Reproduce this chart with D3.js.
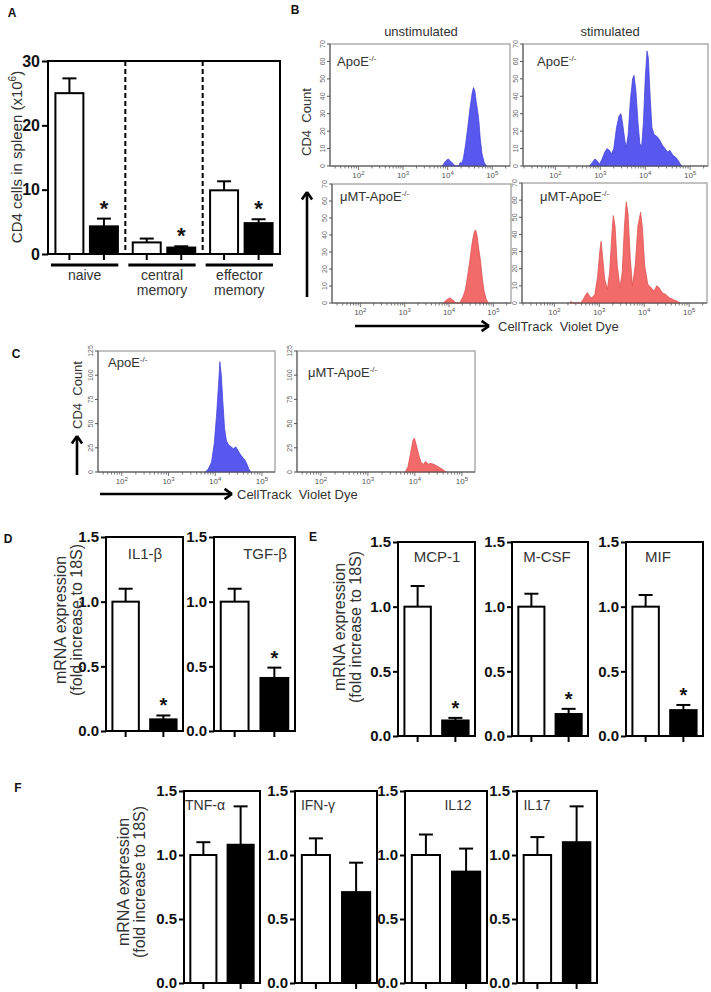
<!DOCTYPE html>
<html><head><meta charset="utf-8">
<script src="https://cdn.jsdelivr.net/npm/d3@7"></script>
<style>
body{margin:0;background:#fff}
svg{display:block}
text{font-family:"Liberation Sans",Arial,Helvetica,sans-serif}
</style>
</head><body>
<svg id="fig" width="711" height="992"></svg>
<script>
// ================= DATA =================
// Panel A: CD4 cells in spleen (x10^6)
const groupsA = ["naive", "central memory", "effector memory"];
const apoeA = [25.0, 1.8, 9.9];
const apoeErrA = [2.3, 0.6, 1.4];
const umtA = [4.3, 1.0, 4.8];
const umtErrA = [1.2, 0.2, 0.6];
const sigA = [true, true, true];
const yTicksA = [0, 10, 20, 30];

// Panel D
const genesD = ["IL1-β", "TGF-β"];
const apoeD = [1.0, 1.0];
const apoeErrD = [0.10, 0.10];
const umtD = [0.09, 0.41];
const umtErrD = [0.03, 0.08];
const sigD = [true, true];

// Panel E
const genesE = ["MCP-1", "M-CSF", "MIF"];
const apoeE = [1.0, 1.0, 1.0];
const apoeErrE = [0.16, 0.10, 0.09];
const umtE = [0.12, 0.17, 0.20];
const umtErrE = [0.02, 0.04, 0.04];
const sigE = [true, true, true];

// Panel F
const genesF = ["TNF-α", "IFN-γ", "IL12", "IL17"];
const apoeF = [1.0, 1.0, 1.0, 1.0];
const apoeErrF = [0.10, 0.13, 0.16, 0.14];
const umtF = [1.08, 0.71, 0.87, 1.10];
const umtErrF = [0.30, 0.23, 0.18, 0.28];
const sigF = [false, false, false, false];

const yTicksMRNA = [0, 0.5, 1.0, 1.5];

// Flow histograms: [log10 CellTrack Violet intensity, CD4 count]
const histApoEUnstim = [[3.88,0],[3.93,2],[3.98,3.5],[4.02,4],[4.07,2.5],[4.12,1.5],[4.16,0],[4.25,0],[4.28,2],[4.31,1.5],[4.35,4],[4.40,12],[4.45,22],[4.50,33],[4.55,42],[4.58,45],[4.61,43],[4.64,37],[4.67,32],[4.70,26],[4.73,16],[4.77,7],[4.82,2],[4.87,0]];
const histApoEStim = [[2.76,0],[2.82,2],[2.88,4],[2.93,3],[2.98,1],[3.04,4],[3.10,8],[3.15,10],[3.20,9],[3.25,7],[3.30,10],[3.36,22],[3.42,29],[3.46,30],[3.50,24],[3.55,14],[3.58,11],[3.62,18],[3.67,38],[3.72,50],[3.75,52],[3.79,44],[3.84,25],[3.88,13],[3.92,11],[3.96,25],[4.00,50],[4.04,66],[4.07,62],[4.11,40],[4.15,22],[4.20,18],[4.26,17],[4.32,15],[4.38,12],[4.44,10],[4.50,8],[4.55,9],[4.62,6],[4.68,5],[4.74,3],[4.78,1],[4.82,0]];
const histUmtUnstim = [[3.87,0],[3.93,1.5],[3.98,2.5],[4.02,3],[4.07,2],[4.12,1],[4.16,0],[4.24,0],[4.28,2],[4.32,4],[4.37,8],[4.42,16],[4.47,25],[4.52,35],[4.57,42],[4.60,43],[4.63,40],[4.67,32],[4.71,25],[4.75,15],[4.79,7],[4.84,2],[4.89,0]];
const histUmtStim = [[2.35,0],[2.37,1],[2.39,0],[2.58,0],[2.64,2],[2.70,5],[2.74,6],[2.78,4],[2.83,3],[2.90,5],[2.96,15],[3.01,30],[3.04,36],[3.07,28],[3.12,14],[3.18,8],[3.23,18],[3.28,40],[3.31,51],[3.35,45],[3.40,22],[3.46,9],[3.51,18],[3.56,45],[3.60,59],[3.64,52],[3.69,26],[3.74,10],[3.80,22],[3.86,45],[3.92,53],[3.96,44],[4.01,22],[4.08,11],[4.15,9],[4.22,7],[4.28,10],[4.33,9],[4.40,6],[4.48,5],[4.56,3],[4.65,2],[4.74,1],[4.80,0]];
const histC_ApoE = [[3.79,0],[3.85,3],[3.92,10],[3.98,30],[4.03,60],[4.07,90],[4.10,114],[4.13,100],[4.16,75],[4.20,45],[4.24,32],[4.29,28],[4.34,26],[4.39,24],[4.44,26],[4.49,22],[4.54,18],[4.59,15],[4.64,12],[4.68,8],[4.72,3],[4.76,0]];
const histC_Umt = [[3.79,0],[3.85,5],[3.91,20],[3.96,33],[3.99,35],[4.03,28],[4.08,18],[4.13,10],[4.18,8],[4.23,11],[4.28,8],[4.33,9],[4.40,8],[4.48,6],[4.55,4],[4.61,2],[4.66,0]];
const flowXTickExps = [2, 3, 4, 5];
const yTicksB = [0, 10, 20, 30, 40, 50, 60, 70];
const yTicksC = [0, 25, 50, 75, 100, 125];

// ================= DRAWING =================
const svg = d3.select("#fig");
svg.append("rect").attr("width", 711).attr("height", 992).attr("fill", "#fff");
const TXT = "#333";
const BLUE = "#5858ef", BLUE_S = "#3c3cd8";
const RED = "#f26a6a", RED_S = "#dd4a4a";

function letter(t, x, y) {
  svg.append("text").attr("x", x).attr("y", y).attr("text-anchor", "middle")
    .attr("font-size", 12).attr("font-weight", "bold").attr("fill", "#111").text(t);
}
function supText(g, x, y, base, sup, size, anchor) {
  const t = g.append("text").attr("x", x).attr("y", y).attr("font-size", size)
    .attr("fill", TXT).attr("text-anchor", anchor || "start");
  t.append("tspan").text(base);
  t.append("tspan").attr("dy", -size * 0.42).attr("font-size", size * 0.62).text(sup);
  return t;
}
function arrow(x1, y1, x2, y2) {
  const g = svg.append("g").attr("stroke", "#000").attr("stroke-width", 2.6).attr("fill", "none");
  g.append("line").attr("x1", x1).attr("y1", y1).attr("x2", x2).attr("y2", y2);
  const a = Math.atan2(y2 - y1, x2 - x1), L = 9, s = 0.6;
  [a + Math.PI - s, a + Math.PI + s].forEach(b => {
    g.append("line").attr("x1", x2).attr("y1", y2)
      .attr("x2", x2 + L * Math.cos(b)).attr("y2", y2 + L * Math.sin(b));
  });
}

// ---------- Panel A ----------
letter("A", 12, 17);
(function () {
  const x0 = 48, x1 = 280, y0 = 61, y1 = 254;
  const g = svg.append("g");
  const y = d3.scaleLinear().domain([0, 30]).range([y1, y0]);
  const xg = d3.scaleBand().domain(groupsA).range([x0, x1]);
  const xi = d3.scaleBand().domain(["ApoE", "uMT"]).range([0, xg.bandwidth()])
    .paddingInner(0.19).paddingOuter(0.215);
  groupsA.slice(1).forEach(gname => {
    g.append("line").attr("x1", xg(gname)).attr("x2", xg(gname)).attr("y1", y0).attr("y2", y1)
      .attr("stroke", "#000").attr("stroke-width", 2).attr("stroke-dasharray", "5,3");
  });
  groupsA.forEach((gname, i) => {
    const rows = [
      { k: "ApoE", v: apoeA[i], e: apoeErrA[i], fill: "#fff", sig: false },
      { k: "uMT", v: umtA[i], e: umtErrA[i], fill: "#000", sig: sigA[i] }
    ];
    rows.forEach(r => {
      const bx = xg(gname) + xi(r.k), bw = xi.bandwidth(), cx = bx + bw / 2;
      g.append("line").attr("x1", cx).attr("x2", cx).attr("y1", y(r.v)).attr("y2", y(r.v + r.e))
        .attr("stroke", "#000").attr("stroke-width", 2);
      g.append("line").attr("x1", cx - 7).attr("x2", cx + 7).attr("y1", y(r.v + r.e)).attr("y2", y(r.v + r.e))
        .attr("stroke", "#000").attr("stroke-width", 2);
      g.append("rect").attr("x", bx).attr("y", y(r.v)).attr("width", bw).attr("height", y(0) - y(r.v))
        .attr("fill", r.fill).attr("stroke", "#000").attr("stroke-width", 2);
      g.append("line").attr("x1", cx).attr("x2", cx).attr("y1", y1).attr("y2", y1 + 6)
        .attr("stroke", "#000").attr("stroke-width", 2);
      if (r.sig) g.append("text").attr("x", cx).attr("y", y(r.v + r.e) - 3).attr("text-anchor", "middle")
        .attr("font-size", 22).attr("font-weight", "bold").attr("fill", "#111").text("*");
    });
    const ux0 = xg(gname) + 3, ux1 = xg(gname) + xg.bandwidth() - 7;
    g.append("line").attr("x1", ux0).attr("x2", ux1).attr("y1", 265).attr("y2", 265)
      .attr("stroke", "#000").attr("stroke-width", 3);
    gname.split(" ").forEach((w, j) => {
      g.append("text").attr("x", (ux0 + ux1) / 2).attr("y", 280 + j * 15).attr("text-anchor", "middle")
        .attr("font-size", 14).attr("fill", TXT).text(w);
    });
  });
  g.append("rect").attr("x", x0).attr("y", y0).attr("width", x1 - x0).attr("height", y1 - y0)
    .attr("fill", "none").attr("stroke", "#000").attr("stroke-width", 2);
  const ax = g.append("g").attr("transform", `translate(${x0},0)`)
    .call(d3.axisLeft(y).tickValues(yTicksA).tickSize(6).tickPadding(2));
  ax.select(".domain").remove();
  ax.selectAll("line").attr("stroke-width", 2);
  ax.selectAll("text").attr("font-size", 16).attr("font-weight", "bold").attr("fill", "#111")
    .attr("font-family", '"Liberation Sans",Arial,sans-serif');
  const yl = g.append("text").attr("transform", "translate(22,157) rotate(-90)")
    .attr("text-anchor", "middle").attr("font-size", 15).attr("fill", TXT);
  yl.append("tspan").text("CD4 cells in spleen (x10");
  yl.append("tspan").attr("dy", -6).attr("font-size", 10).text("6");
  yl.append("tspan").attr("dy", 6).text(")");
})();

// ---------- Flow plots ----------
function flowPlot(c) {
  const g = svg.append("g");
  const x = d3.scaleLog().domain(c.xDom).range([c.x0, c.x0 + c.w]);
  const y = d3.scaleLinear().domain([0, c.yMax]).range([c.y0 + c.h, c.y0]);
  g.append("rect").attr("x", c.x0).attr("y", c.y0).attr("width", c.w).attr("height", c.h)
    .attr("fill", "none").attr("stroke", "#9a9a9a").attr("stroke-width", 1.2);
  const area = d3.area().x(d => x(Math.pow(10, d[0]))).y0(y(0)).y1(d => y(d[1]));
  g.append("path").datum(c.data).attr("d", area).attr("fill", c.fill)
    .attr("stroke", c.stroke).attr("stroke-width", 0.7);
  const yb = c.y0 + c.h;
  g.append("line").attr("x1", c.x0).attr("x2", c.x0).attr("y1", c.y0).attr("y2", yb).attr("stroke", "#555");
  g.append("line").attr("x1", c.x0).attr("x2", c.x0 + c.w).attr("y1", yb).attr("y2", yb).attr("stroke", "#555");
  c.yTicks.forEach(t => {
    g.append("line").attr("x1", c.x0 - 3).attr("x2", c.x0).attr("y1", y(t)).attr("y2", y(t)).attr("stroke", "#555");
    g.append("text").attr("transform", `translate(${c.x0 - 5},${y(t)}) rotate(-90)`)
      .attr("text-anchor", "middle").attr("font-size", 7).attr("fill", "#666").text(t);
  });
  x.ticks().forEach(v => {
    const major = Math.abs(Math.log10(v) - Math.round(Math.log10(v))) < 1e-6;
    g.append("line").attr("x1", x(v)).attr("x2", x(v)).attr("y1", yb).attr("y2", yb + (major ? 4 : 2.5))
      .attr("stroke", "#555").attr("stroke-width", 0.8);
  });
  flowXTickExps.forEach(e => {
    const t = g.append("text").attr("x", x(Math.pow(10, e))).attr("y", yb + 12)
      .attr("text-anchor", "middle").attr("font-size", 8).attr("fill", "#555");
    t.append("tspan").text("10");
    t.append("tspan").attr("dy", -3).attr("font-size", 6).text(e);
  });
  supText(g, c.lx, c.ly, c.label, "-/-", 13);
}

letter("B", 295, 14);
svg.append("text").attr("x", 421).attr("y", 36).attr("text-anchor", "middle").attr("font-size", 13).attr("fill", TXT).text("unstimulated");
svg.append("text").attr("x", 610).attr("y", 36).attr("text-anchor", "middle").attr("font-size", 13).attr("fill", TXT).text("stimulated");
flowPlot({ x0: 330, y0: 44, w: 180, h: 122, data: histApoEUnstim, fill: BLUE, stroke: BLUE_S, xDom: [23, 250000], yMax: 70, yTicks: yTicksB, label: "ApoE", lx: 337, ly: 66 });
flowPlot({ x0: 523, y0: 44, w: 185, h: 122, data: histApoEStim, fill: BLUE, stroke: BLUE_S, xDom: [19, 250000], yMax: 70, yTicks: yTicksB, label: "ApoE", lx: 537, ly: 66 });
flowPlot({ x0: 332, y0: 184, w: 179, h: 119, data: histUmtUnstim, fill: RED, stroke: RED_S, xDom: [23, 250000], yMax: 70, yTicks: yTicksB, label: "μMT-ApoE", lx: 340, ly: 201 });
flowPlot({ x0: 522, y0: 183, w: 185, h: 120, data: histUmtStim, fill: RED, stroke: RED_S, xDom: [19, 250000], yMax: 70, yTicks: yTicksB, label: "μMT-ApoE", lx: 540, ly: 201 });
svg.append("text").attr("transform", "translate(311,122) rotate(-90)").attr("text-anchor", "middle")
  .attr("font-size", 13).attr("fill", TXT).attr("xml:space", "preserve").text("CD4  Count");
arrow(307, 297, 307, 192);
arrow(355, 326, 489, 326);
svg.append("text").attr("x", 498).attr("y", 331).attr("font-size", 13).attr("fill", TXT).attr("xml:space", "preserve").text("CellTrack  Violet Dye");

// ---------- Panel C ----------
letter("C", 16, 358);
flowPlot({ x0: 98, y0: 351, w: 177, h: 121, data: histC_ApoE, fill: BLUE, stroke: BLUE_S, xDom: [31, 190000], yMax: 125, yTicks: yTicksC, label: "ApoE", lx: 108, ly: 367 });
flowPlot({ x0: 297, y0: 351, w: 178, h: 121, data: histC_Umt, fill: RED, stroke: RED_S, xDom: [31, 190000], yMax: 125, yTicks: yTicksC, label: "μMT-ApoE", lx: 308, ly: 377 });
svg.append("text").attr("transform", "translate(82,395) rotate(-90)").attr("text-anchor", "middle")
  .attr("font-size", 13).attr("fill", TXT).attr("xml:space", "preserve").text("CD4  Count");
arrow(77, 475, 77, 436);
arrow(100, 494, 232, 494);
svg.append("text").attr("x", 237).attr("y", 499).attr("font-size", 13).attr("fill", TXT).attr("xml:space", "preserve").text("CellTrack  Violet Dye");

// ---------- mRNA mini bar charts ----------
function mini(c) {
  const g = svg.append("g");
  const y = d3.scaleLinear().domain([0, 1.5]).range([c.yb, c.yt]);
  const x = d3.scaleBand().domain(["ApoE", "uMT"]).range([c.x0, c.x0 + c.w])
    .paddingInner(0.3).paddingOuter(0.17);
  const rows = [
    { k: "ApoE", v: c.a, e: c.ae, fill: "#fff", sig: false },
    { k: "uMT", v: c.u, e: c.ue, fill: "#000", sig: c.sig }
  ];
  rows.forEach(r => {
    const bx = x(r.k), bw = x.bandwidth(), cx = bx + bw / 2;
    g.append("line").attr("x1", cx).attr("x2", cx).attr("y1", y(r.v)).attr("y2", y(r.v + r.e))
      .attr("stroke", "#000").attr("stroke-width", 2);
    g.append("line").attr("x1", cx - 7).attr("x2", cx + 7).attr("y1", y(r.v + r.e)).attr("y2", y(r.v + r.e))
      .attr("stroke", "#000").attr("stroke-width", 2);
    g.append("rect").attr("x", bx).attr("y", y(r.v)).attr("width", bw).attr("height", y(0) - y(r.v))
      .attr("fill", r.fill).attr("stroke", "#000").attr("stroke-width", 2);
    g.append("line").attr("x1", cx).attr("x2", cx).attr("y1", c.yb).attr("y2", c.yb + 6)
      .attr("stroke", "#000").attr("stroke-width", 2);
    if (r.sig) g.append("text").attr("x", cx).attr("y", y(r.v + r.e) - 3).attr("text-anchor", "middle")
      .attr("font-size", 20).attr("font-weight", "bold").attr("fill", "#111").text("*");
  });
  g.append("rect").attr("x", c.x0).attr("y", c.yt).attr("width", c.w).attr("height", c.yb - c.yt)
    .attr("fill", "none").attr("stroke", "#000").attr("stroke-width", 2);
  const ax = g.append("g").attr("transform", `translate(${c.x0},0)`)
    .call(d3.axisLeft(y).tickValues(yTicksMRNA).tickFormat(d3.format(".1f")).tickSize(5).tickPadding(2));
  ax.select(".domain").remove();
  ax.selectAll("line").attr("stroke-width", 2);
  ax.selectAll("text").attr("font-size", 15).attr("font-weight", "bold").attr("fill", "#111")
    .attr("font-family", '"Liberation Sans",Arial,sans-serif');
  g.append("text").attr("x", c.tx).attr("y", c.ty).attr("text-anchor", "middle")
    .attr("font-size", c.tf).attr("fill", TXT).text(c.title);
}
function mrnaLabel(x, yc) {
  const t = svg.append("text").attr("transform", `translate(${x},${yc}) rotate(-90)`)
    .attr("text-anchor", "middle").attr("font-size", 16).attr("fill", TXT);
  t.append("tspan").attr("x", 0).attr("dy", 0).text("mRNA expression");
  t.append("tspan").attr("x", 0).attr("dy", 15.5).text("(fold increase to 18S)");
}

// Panel D
letter("D", 8, 543);
const layoutD = [{ x0: 106, w: 77, tx: 145 }, { x0: 214, w: 81, tx: 265 }];
genesD.forEach((gname, i) => mini({ x0: layoutD[i].x0, w: layoutD[i].w, yt: 537, yb: 731, title: gname, tx: layoutD[i].tx, ty: 559, tf: 15,
  a: apoeD[i], ae: apoeErrD[i], u: umtD[i], ue: umtErrD[i], sig: sigD[i] }));
mrnaLabel(66, 620);

// Panel E
letter("E", 313, 541);
const layoutE = [{ x0: 398, w: 77, tx: 437 }, { x0: 512, w: 76, tx: 547 }, { x0: 626, w: 77, tx: 658 }];
genesE.forEach((gname, i) => mini({ x0: layoutE[i].x0, w: layoutE[i].w, yt: 542, yb: 736, title: gname, tx: layoutE[i].tx, ty: 562, tf: 15,
  a: apoeE[i], ae: apoeErrE[i], u: umtE[i], ue: umtErrE[i], sig: sigE[i] }));
mrnaLabel(345, 627);

// Panel F
letter("F", 18, 792);
const layoutF = [{ x0: 184, w: 76, tx: 205 }, { x0: 295, w: 82, tx: 318 }, { x0: 405, w: 82, tx: 458 }, { x0: 517, w: 80, tx: 537 }];
genesF.forEach((gname, i) => mini({ x0: layoutF[i].x0, w: layoutF[i].w, yt: 791, yb: 983, title: gname, tx: layoutF[i].tx, ty: 810, tf: 14,
  a: apoeF[i], ae: apoeErrF[i], u: umtF[i], ue: umtErrF[i], sig: sigF[i] }));
mrnaLabel(129, 882);
</script>
</body></html>
